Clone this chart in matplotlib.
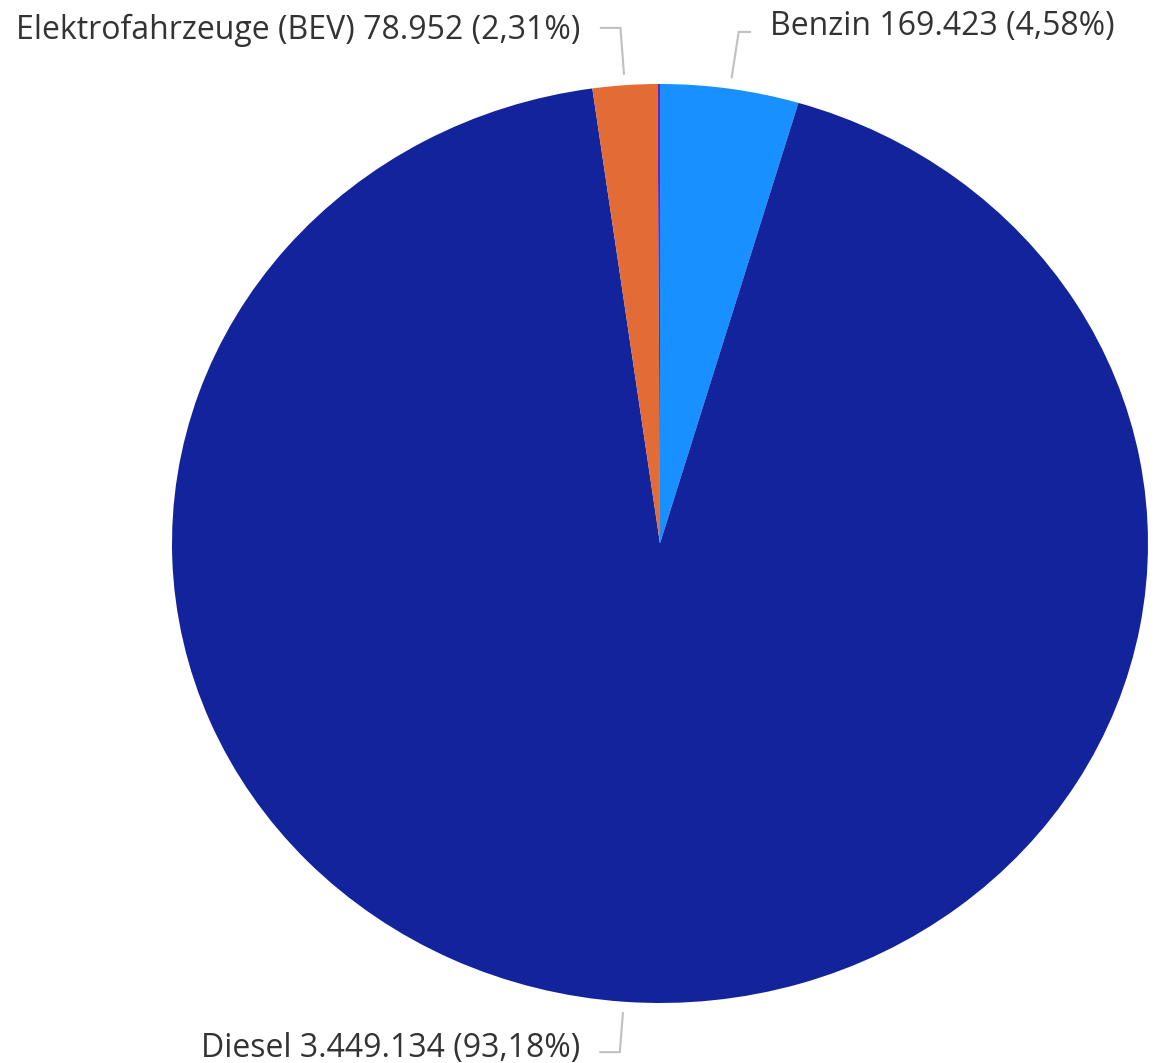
import numpy as np
import matplotlib.pyplot as plt
from matplotlib.transforms import offset_copy

plt.rcParams.update({
    "font.family": ["Open Sans", "DejaVu Sans"],
})

# data (clockwise from 12 o'clock)
names = ["Benzin", "Diesel", "Elektrofahrzeuge (BEV)", "Sonstige"]
values = [169423, 3449134, 78952, 3000]
value_text = ["169.423", "3.449.134", "78.952", ""]
pct_text = ["4,58%", "93,18%", "2,31%", ""]
colors = ["#1890ff", "#13239c", "#e36b35", "#7d1fa6"]
show_label = [True, True, True, False]

# connector layout per label
elbow_r = [1.125, 1.11, 1.125, 0]
arm_len = [0.023, 0.04, 0.04, 0]
label_dy = [-3, -5, -11, 0]  # baseline shift below elbow, in pixels

W, H = 1156, 1063
fig = plt.figure(figsize=(W / 100, H / 100), dpi=100)

# pie drawn as an ellipse: stretch the axes, aspect auto
cx, cy, rx, ry = 660, 543.5, 488, 459.5
ax = fig.add_axes([(cx - rx) / W, (H - cy - ry) / H, 2 * rx / W, 2 * ry / H])
wedges, _ = ax.pie(values, colors=colors, startangle=90, counterclock=False,
                   radius=1, wedgeprops=dict(linewidth=0))
ax.set_aspect("auto")
ax.set_xlim(-1, 1)
ax.set_ylim(-1, 1)
ax.axis("off")

line_col = "#c0c0c0"
for i, w in enumerate(wedges):
    if not show_label[i]:
        continue
    mid = np.deg2rad((w.theta1 + w.theta2) / 2)
    dx, dy = np.cos(mid), np.sin(mid)
    x0, y0 = 1.025 * dx, 1.025 * dy
    x1, y1 = elbow_r[i] * dx, elbow_r[i] * dy
    side = 1 if (dx > 0.1) else -1
    x2 = x1 + side * arm_len[i]
    ax.plot([x0, x1, x2], [y0, y1, y1], color=line_col, lw=1.5,
            clip_on=False, solid_joinstyle="miter")
    tr = offset_copy(ax.transData, fig=fig, x=0, y=label_dy[i], units="dots")
    ax.text(x2 + side * 0.042, y1,
            f"{names[i]} {value_text[i]} ({pct_text[i]})", transform=tr,
            ha="left" if side > 0 else "right", va="baseline",
            fontsize=23, color="#333333", clip_on=False)

fig.savefig("out.png", dpi=100)
